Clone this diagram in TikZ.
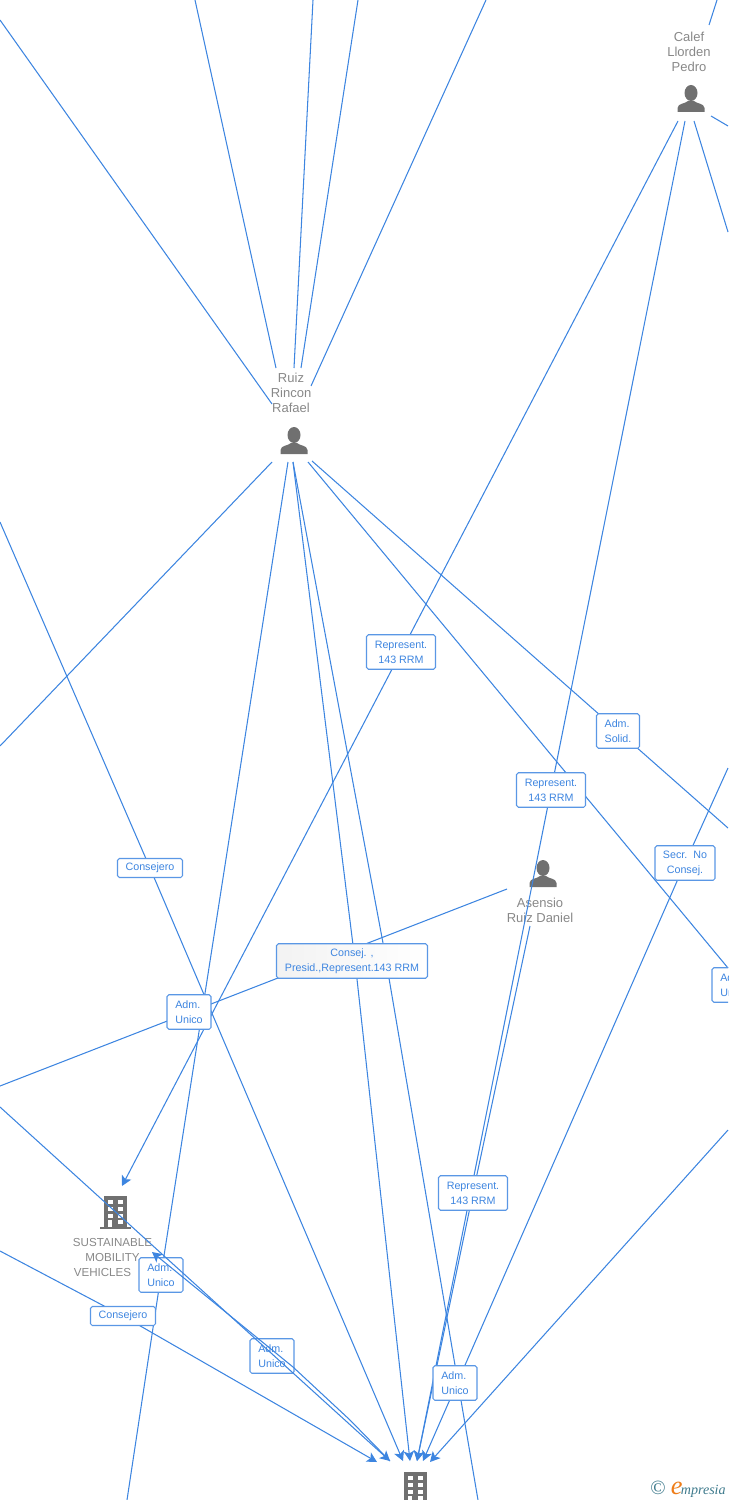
\documentclass[tikz,border=0pt]{standalone}
\usepackage{fontspec}
\setmainfont{Liberation Sans}
\newfontfamily\logofont{Liberation Serif}
\usetikzlibrary{arrows.meta}
\definecolor{linkblue}{RGB}{61,133,224}
\definecolor{namegray}{RGB}{136,136,136}
\definecolor{icongray}{RGB}{112,112,112}
\definecolor{logoteal}{RGB}{62,122,140}
\definecolor{logoorange}{RGB}{238,125,25}
\pgfdeclarelayer{back}
\pgfdeclarelayer{lines}
\pgfsetlayers{back,lines,main}
\tikzset{
  link/.style={draw=linkblue, line width=0.6pt},
  linkto/.style={link, -{Stealth[length=0.2cm, width=0.21cm, inset=0.05cm]}},
  rolebox/.style={draw=linkblue!85, line width=0.6pt, fill=white, rounded corners=1pt, text=linkblue,
    inner sep=0pt, minimum height=0.69cm, font=\fontsize{6.1}{8.54}\selectfont},
  nametext/.style={text=namegray, align=center, inner sep=0pt, font=\fontsize{7.4}{8.54}\selectfont},
  personicon/.pic={
    \fill[icongray] (0,-6) ellipse (6.5 and 8);
    \fill[icongray] (-13.5,13) -- (-13.5,9) .. controls (-13,4) and (-6,5) .. (-3,2) -- (3,2)
      .. controls (6,5) and (13,4) .. (13.5,9) -- (13.5,13) -- cycle;
  },
  buildingicon/.pic={
    \fill[icongray] (-11,-17) rectangle (12,14);
    \fill[icongray] (-15,14) rectangle (16,16);
    \foreach \wx in {-7,3} \foreach \wy in {-13,-6,1} \fill[white] (\wx,\wy) rectangle ++(5,4);
    \fill[white] (-7,7) rectangle ++(4,7);
    \fill[white] (3,7) rectangle ++(5,4);
  }
}
\begin{document}
\begin{tikzpicture}[x=0.02cm, y=-0.02cm]
  \clip (0,0) rectangle (728,1500);
  % people and companies
  \begin{pgfonlayer}{back}
    \node[nametext] (ruiz) at (291,393) {Ruiz\\Rincon\\Rafael};
    \node[nametext] (calef) at (689,52) {Calef\\Llorden\\Pedro};
    \node[nametext] (asensio) at (540,910) {Asensio\\Ruiz Daniel};
    \node[nametext, font=\fontsize{6.6}{8.54}\selectfont] (sustainable) at (112.5,1257)
      {SUSTAINABLE\\MOBILITY\\VEHICLES\hspace*{11.4pt}};
    \pic at (294,441) {personicon};
    \pic at (691,99) {personicon};
    \pic at (543,874) {personicon};
    \pic at (115,1213) {buildingicon};
    \pic at (415,1489) {buildingicon};
  \end{pgfonlayer}
  % roles
  \node[rolebox, minimum width=1.38cm, align=center] (repA) at (401,652) {Represent.\\143 RRM};
  \node[rolebox, minimum width=0.86cm, align=left] (solid) at (618,731) {Adm.\\Solid.};
  \node[rolebox, minimum width=1.38cm, align=center] (repB) at (551,790) {Represent.\\143 RRM};
  \node[rolebox, minimum width=1.3cm, minimum height=0.38cm] (consejeroA) at (150,868) {Consejero};
  \node[rolebox, minimum width=1.2cm, align=center] (secr) at (685,863) {Secr.\ \ No\\Consej.};
  \node[rolebox, minimum width=0.88cm, align=left] (admRight) at (734,985) {Adm.\\Unico};
  \node[rolebox, minimum width=3.02cm, align=center, left color=black!5, right color=white] (consej) at (352,961)
    {Consej. ,\\Presid.,Represent.143 RRM};
  \node[rolebox, minimum width=0.88cm, align=left] (admA) at (189,1012) {Adm.\\Unico};
  \node[rolebox, minimum width=1.38cm, align=center] (repC) at (473,1193) {Represent.\\143 RRM};
  \node[rolebox, minimum width=0.88cm, align=left] (admB) at (161,1275) {Adm.\\Unico};
  \node[rolebox, minimum width=1.3cm, minimum height=0.38cm] (consejeroB) at (123,1316) {Consejero};
  \node[rolebox, minimum width=0.88cm, align=left] (admC) at (272,1356) {Adm.\\Unico};
  \node[rolebox, minimum width=0.88cm, align=left] (admD) at (455,1383) {Adm.\\Unico};
  % free ends
  \foreach \name/\px/\py in {
    ruizN1/272/404, ruizN2/276/368, ruizN3/294/368, ruizN4/301/368, ruizN5/311/386,
    top1/0/20, top2/195/0, top3/313/0, top4/358/0, top5/486/0,
    ruizS1/272/462, ruizS2/288/462, ruizS3/293/462, ruizS4/293/462, ruizS5/308/462, ruizS6/312/461,
    calefS1/678/121, calefS2/685/121, calefS3/694/121, calefE/711/116, calefN/709/25,
    asensioW/507/889, asensioS/530/926,
    left1/0/746, left2/0/522, left3/0/1086, left4/0/1107, left5/0/1251,
    right1/728/828, right2/728/232, right3/728/126, right4/728/768, right5/728/1130, right6/728/968, topR/717/0,
    bottom1/127/1500, bottom2/478/1500,
    viaC/355/961, viaD/383/943, viaE/293/1367, viaF/350/1420,
    sustIn/122/1186, sustTip/152/1252,
    in1/377/1462, in2/390/1461, in3/403/1461, in4/410/1461, in5/417/1461, in6/423/1461, in7/430/1462
  }{\coordinate (\name) at (\px,\py);}
  % connectors under the roles
  \begin{pgfonlayer}{lines}
    \draw[link] (top1) -- (ruizN1);
    \draw[link] (top2) -- (ruizN2);
    \draw[link] (top3) -- (ruizN3);
    \draw[link] (top4) -- (ruizN4);
    \draw[link] (top5) -- (ruizN5);
    \draw[link] (ruizS1) -- (left1);
    \draw[link] (ruizS2) -- (admB.center) -- (bottom1);
    \draw[linkto] (ruizS3) -- (viaC) -- (in4);
    \draw[link] (ruizS4) -- (viaD) -- (bottom2);
    \draw[link] (ruizS5) -- (right6);
    \draw[link] (ruizS6) -- (solid.center) -- (right1);
    \draw[linkto] (calefS1) -- (repA.center) -- (sustIn);
    \draw[linkto] (calefS2) -- (repB.center) -- (in5);
    \draw[link] (calefS3) -- (right2);
    \draw[link] (calefE) -- (right3);
    \draw[link] (topR) -- (calefN);
    \draw[link] (asensioW) -- (left3);
    \draw[linkto] (asensioS) -- (repC.center) -- (in5);
    \draw[linkto] (left2) -- (consejeroA.center) -- (in3);
    \draw[linkto] (left5) -- (consejeroB.center) -- (in1);
    \draw[linkto] (right4) -- (secr.center) -- (in6);
    \draw[linkto] (right5) -- (in7);
  \end{pgfonlayer}
  % these two run over the role box
  \draw[linkto] (left4) -- (in2);
  \draw[linkto] (in2) -- (viaF) -- (viaE) -- (sustTip);
  \node[text=logoteal, inner sep=0pt, anchor=east, font=\logofont\itshape\fontsize{8}{9}\selectfont] (logo) at (726,1489)
    {{\upshape\fontsize{11.5}{11.5}\selectfont ©}\hspace{3pt}{\color{logoorange}\fontsize{15}{15}\selectfont e}\hspace{-1pt}mpresia};
\end{tikzpicture}
\end{document}
